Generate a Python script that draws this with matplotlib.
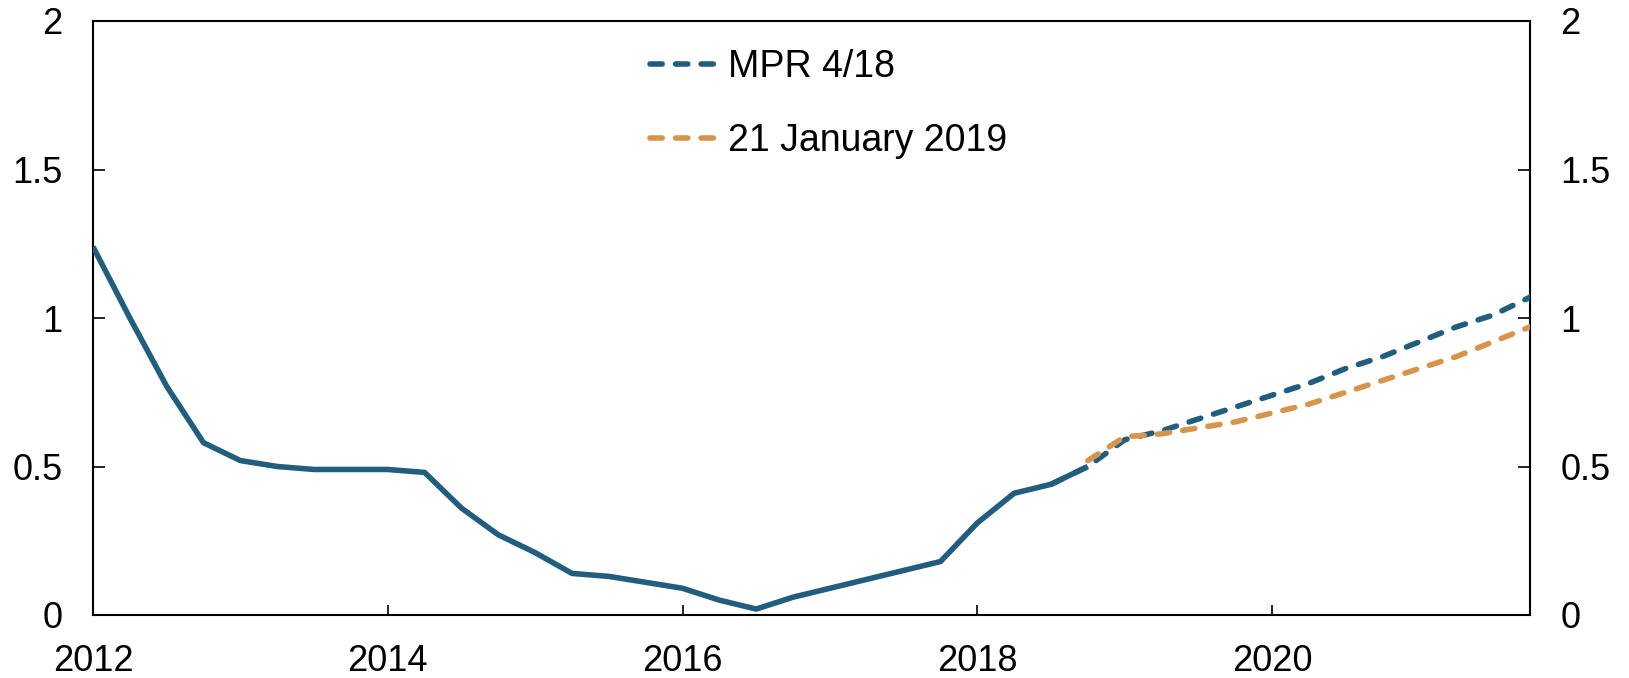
import matplotlib
matplotlib.use("Agg")
import matplotlib.pyplot as plt

plt.rcParams['font.family'] = ['Liberation Sans', 'DejaVu Sans']

# Historical (quarterly, from 2012Q1)
hist_x = [2012.0, 2012.25, 2012.5, 2012.75, 2013.0, 2013.25, 2013.5, 2013.75,
          2014.0, 2014.25, 2014.5, 2014.75, 2015.0, 2015.25, 2015.5, 2015.75,
          2016.0, 2016.25, 2016.5, 2016.75, 2017.0, 2017.25, 2017.5, 2017.75,
          2018.0, 2018.25, 2018.5, 2018.75]
hist_y = [1.24, 1.00, 0.77, 0.58, 0.52, 0.50, 0.49, 0.49,
          0.49, 0.48, 0.36, 0.27, 0.21, 0.14, 0.13, 0.11,
          0.09, 0.05, 0.02, 0.06, 0.09, 0.12, 0.15, 0.18,
          0.31, 0.41, 0.44, 0.50]

# MPR 4/18 projection
mpr_x = [2018.5, 2018.75, 2019.0, 2019.25, 2019.5, 2019.75, 2020.0, 2020.25,
         2020.5, 2020.75, 2021.0, 2021.25, 2021.5, 2021.75]
mpr_y = [0.44, 0.50, 0.59, 0.62, 0.66, 0.70, 0.74, 0.78,
         0.83, 0.87, 0.92, 0.97, 1.01, 1.07]

# 21 January 2019 projection
jan_x = [2018.75, 2019.0, 2019.25, 2019.5, 2019.75, 2020.0, 2020.25, 2020.5,
         2020.75, 2021.0, 2021.25, 2021.5, 2021.75]
jan_y = [0.52, 0.60, 0.61, 0.63, 0.65, 0.68, 0.71, 0.75,
         0.79, 0.83, 0.87, 0.92, 0.97]

xticks = [2012, 2014, 2016, 2018, 2020]
xticklabels = ['2012', '2014', '2016', '2018', '2020']
yticks = [0, 0.5, 1, 1.5, 2]
yticklabels = ['0', '0.5', '1', '1.5', '2']

blue = '#215d7e'
orange = '#d6954a'

fig = plt.figure(figsize=(16.29, 6.78), dpi=100)
ax = fig.add_axes([93/1629, 63/678, (1530-93)/1629, (615-21)/678])

lw = 4.0
dash = (0, (2.2, 2.4))
ax.plot(hist_x, hist_y, color=blue, lw=lw, solid_capstyle='butt',
        solid_joinstyle='round', zorder=3)
ax.plot(mpr_x, mpr_y, color=blue, lw=lw, ls=dash,
        dash_capstyle='round', label='MPR 4/18', zorder=4)
ax.plot(jan_x, jan_y, color=orange, lw=lw, ls=dash,
        dash_capstyle='round', label='21 January 2019', zorder=5)

ax.set_xlim(2012, 2021.75)
ax.set_ylim(0, 2)
ax.set_xticks(xticks)
ax.set_xticklabels(xticklabels)
ax.set_yticks(yticks)
ax.set_yticklabels(yticklabels)

for s in ax.spines.values():
    s.set_linewidth(1.5)
    s.set_color('black')

ax.tick_params(axis='both', direction='in', length=8.5, width=1.2,
               labelsize=26, pad=22, colors='black')
ax.tick_params(axis='y', left=True, right=True, labelleft=True, labelright=True)
ax.tick_params(axis='x', length=7.5, pad=21)

leg = fig.legend(loc='upper left', bbox_to_anchor=(0.399, 0.927),
                 bbox_transform=fig.transFigure, frameon=False,
                 fontsize=27, handlelength=1.75, handletextpad=0.32,
                 labelspacing=1.0, borderpad=0, borderaxespad=0)

fig.savefig('out.png', dpi=100)
